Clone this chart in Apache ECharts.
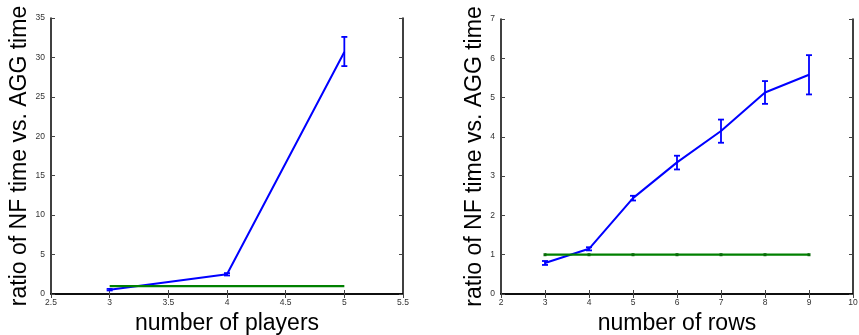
<!DOCTYPE html>
<html><head><meta charset="utf-8">
<script src="https://cdn.jsdelivr.net/npm/echarts@6/dist/echarts.min.js"></script>
<style>html,body{margin:0;padding:0;background:#fff}#c{width:859px;height:335px}</style>
</head><body><div id="c"></div>
<script>
// Left panel: number of players
const playersX = [3, 4, 5];
const playersRatio = [0.55, 2.5, 30.7];
const playersErrLow = [0.45, 2.35, 28.9];
const playersErrHigh = [0.65, 2.65, 32.6];
const playersBaseline = [1, 1, 1];
const playersXTicks = [2.5, 3, 3.5, 4, 4.5, 5, 5.5];
const playersYTicks = [0, 5, 10, 15, 20, 25, 30, 35];

// Right panel: number of rows
const rowsX = [3, 4, 5, 6, 7, 8, 9];
const rowsRatio = [0.79, 1.15, 2.44, 3.35, 4.15, 5.13, 5.58];
const rowsErrLow = [0.74, 1.11, 2.38, 3.17, 3.85, 4.84, 5.08];
const rowsErrHigh = [0.84, 1.19, 2.50, 3.52, 4.44, 5.42, 6.08];
const rowsBaseline = [1, 1, 1, 1, 1, 1, 1];
const rowsXTicks = [2, 3, 4, 5, 6, 7, 8, 9, 10];
const rowsYTicks = [0, 1, 2, 3, 4, 5, 6, 7];

const yTitle = 'ratio of NF time vs. AGG time';
const xTitles = ['number of players', 'number of rows'];

const FONT = '"Liberation Sans", Arial, Helvetica, sans-serif';
const BLUE = '#0000ff', GREEN = '#008000';

const chart = echarts.init(document.getElementById('c'), null, {renderer: 'canvas'});

function pairs(xs, ys) { return xs.map((x, i) => [x, ys[i]]); }
function triples(xs, lo, hi) { return xs.map((x, i) => [x, lo[i], hi[i]]); }

function errRender(params, api) {
  const x = api.value(0);
  const lo = api.coord([x, api.value(1)]);
  const hi = api.coord([x, api.value(2)]);
  const w = 3;
  const style = {stroke: BLUE, lineWidth: 1.8};
  return {type: 'group', children: [
    {type: 'line', shape: {x1: lo[0], y1: lo[1], x2: hi[0], y2: hi[1]}, style},
    {type: 'line', shape: {x1: lo[0] - w, y1: lo[1], x2: lo[0] + w, y2: lo[1]}, style},
    {type: 'line', shape: {x1: hi[0] - w, y1: hi[1], x2: hi[0] + w, y2: hi[1]}, style}
  ]};
}

const grids = [
  {left: 51, top: 18, width: 352, height: 276, containLabel: false, outerBoundsMode: 'none'},
  {left: 501, top: 19, width: 352, height: 275, containLabel: false, outerBoundsMode: 'none'}
];
const xr = [[playersXTicks[0], playersXTicks[playersXTicks.length-1], 0.5],
            [rowsXTicks[0], rowsXTicks[rowsXTicks.length-1], 1]];
const yr = [[playersYTicks[0], playersYTicks[playersYTicks.length-1], 5],
            [rowsYTicks[0], rowsYTicks[rowsYTicks.length-1], 1]];

const xAxis = [], yAxis = [];
const axisLineStyle = {show: true, lineStyle: {color: '#000', width: 1.5}};
const tickStyle = {show: true, inside: true, length: 4, lineStyle: {color: '#444', width: 1}};
const labelStyle = {color: '#333', fontSize: 8.5, fontFamily: FONT};
for (let g = 0; g < 2; g++) {
  xAxis.push({type: 'value', gridIndex: g, position: 'bottom', min: xr[g][0], max: xr[g][1], interval: xr[g][2],
    axisLine: axisLineStyle, axisTick: tickStyle, splitLine: {show: false},
    axisLabel: Object.assign({margin: 4}, labelStyle),
    name: xTitles[g], nameLocation: 'middle', nameGap: 12,
    nameTextStyle: {fontSize: 23, color: '#000', fontFamily: FONT}});
  xAxis.push({type: 'value', gridIndex: g, position: 'top', min: xr[g][0], max: xr[g][1], interval: xr[g][2],
    axisLine: axisLineStyle, axisTick: tickStyle, splitLine: {show: false}, axisLabel: {show: false}});
  yAxis.push({type: 'value', gridIndex: g, position: 'left', min: yr[g][0], max: yr[g][1], interval: yr[g][2],
    axisLine: axisLineStyle, axisTick: tickStyle, splitLine: {show: false},
    axisLabel: Object.assign({margin: 6}, labelStyle),
    name: yTitle, nameLocation: 'middle', nameGap: g === 0 ? 15 : 8, nameRotate: 90,
    nameTextStyle: {fontSize: 23, color: '#000', fontFamily: FONT}});
  yAxis.push({type: 'value', gridIndex: g, position: 'right', min: yr[g][0], max: yr[g][1], interval: yr[g][2],
    axisLine: axisLineStyle, axisTick: tickStyle, splitLine: {show: false}, axisLabel: {show: false}});
}

const panels = [
  {x: playersX, r: playersRatio, lo: playersErrLow, hi: playersErrHigh, b: playersBaseline, bMarker: false},
  {x: rowsX, r: rowsRatio, lo: rowsErrLow, hi: rowsErrHigh, b: rowsBaseline, bMarker: true}
];
const series = [];
panels.forEach((p, g) => {
  series.push({type: 'line', xAxisIndex: 2*g, yAxisIndex: 2*g, data: pairs(p.x, p.r),
    showSymbol: false, lineStyle: {color: BLUE, width: 2}, animation: false, z: 3});
  series.push({type: 'custom', xAxisIndex: 2*g, yAxisIndex: 2*g, data: triples(p.x, p.lo, p.hi),
    renderItem: errRender, animation: false, z: 3});
  series.push({type: 'line', xAxisIndex: 2*g, yAxisIndex: 2*g, data: pairs(p.x, p.b),
    showSymbol: p.bMarker, symbol: 'rect', symbolSize: 3,
    itemStyle: {color: '#0a6a0a'},
    lineStyle: {color: GREEN, width: 2.2}, animation: false, z: 4});
});

chart.setOption({
  animation: false,
  backgroundColor: '#fff',
  grid: grids,
  xAxis, yAxis, series
});
</script>
</body></html>
